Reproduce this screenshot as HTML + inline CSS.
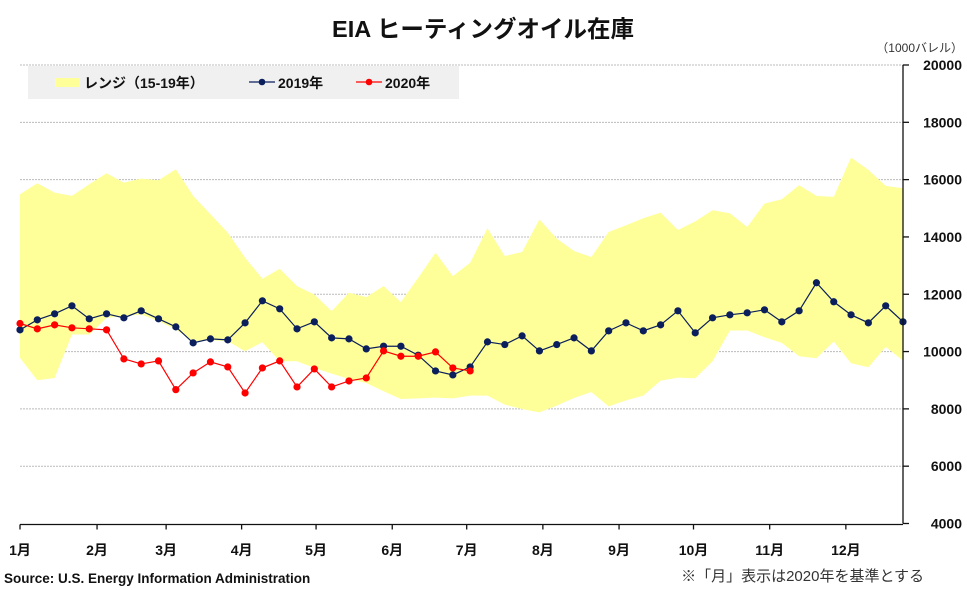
<!DOCTYPE html>
<html><head><meta charset="utf-8"><style>
body{margin:0;background:#fff;}
svg{display:block;font-family:"Liberation Sans","Noto Sans CJK JP",sans-serif;}
</style></head><body>
<svg id="chart" width="967" height="590" viewBox="0 0 967 590">
<text x="483" y="37" text-anchor="middle" font-size="23.5" font-weight="bold" fill="#111">EIA ヒーティングオイル在庫</text>
<text x="963" y="52" text-anchor="end" font-size="12" fill="#333">（1000バレル）</text>
<g id="grid"></g>
<g id="range"></g>
<g id="lines"></g>
<g id="axes"></g>
<g>
<rect x="28" y="66" width="431" height="33" fill="#f0f0f0"/>
<rect x="55" y="78" width="25" height="9" fill="#ffff99"/>
<text x="84" y="88" font-size="14" font-weight="bold" fill="#111">レンジ（15-19年）</text>
<line x1="249" y1="82" x2="275" y2="82" stroke="#0b1f5c" stroke-width="1.3"/>
<circle cx="262" cy="82" r="3.3" fill="#0b1f5c"/>
<text x="278" y="88" font-size="14" font-weight="bold" fill="#111">2019年</text>
<line x1="356" y1="82" x2="382" y2="82" stroke="#ff0000" stroke-width="1.3"/>
<circle cx="369" cy="82" r="3.3" fill="#ff0000"/>
<text x="385" y="88" font-size="14" font-weight="bold" fill="#111">2020年</text>
</g>
<text x="4" y="583" font-size="13.5" font-weight="bold" fill="#111">Source: U.S. Energy Information Administration</text>
<text x="924" y="581" text-anchor="end" font-size="15" fill="#333">※「月」表示は2020年を基準とする</text>
</svg>
<script>
const rangeUpper=[15490,15874,15548,15431,15839,16224,15897,16037,15979,16364,15431,14790,14149,13275,12541,12890,12284,11993,11410,12051,11900,12284,11725,12576,13450,12634,13100,14301,13333,13473,14615,13939,13508,13298,14173,14406,14650,14848,14242,14545,14930,14825,14347,15163,15315,15804,15431,15397,16772,16341,15781,15699];
const rangeLower=[9779,8998,9079,10594,10594,11177,11235,11294,11061,10769,10361,10396,10361,10012,10326,9662,9662,9429,9231,9044,8904,8613,8345,8368,8392,8368,8462,8462,8147,7995,7878,8112,8380,8590,8089,8298,8462,8986,9091,9068,9662,10734,10734,10501,10303,9837,9767,10350,9592,9452,10163,9685];
const series2019=[10758,11107,11317,11597,11142,11317,11177,11422,11142,10862,10303,10443,10408,11002,11771,11492,10793,11037,10478,10443,10093,10186,10186,9872,9324,9184,9464,10338,10245,10548,10023,10245,10478,10023,10723,11002,10723,10932,11422,10653,11177,11282,11352,11457,11037,11422,12401,11737,11282,11002,11597,11037];
const series2020=[10979,10793,10932,10828,10793,10758,9744,9569,9674,8671,9254,9639,9464,8555,9429,9674,8765,9394,8765,8974,9079,10023,9837,9837,9988,9429,9324];
const monthLabels=["1月","2月","3月","4月","5月","6月","7月","8月","9月","10月","11月","12月"];
const monthWeeks=[0,4.45,8.44,12.8,17.1,21.5,25.8,30.2,34.6,38.9,43.3,47.7];
const yTicks=[4000,6000,8000,10000,12000,14000,16000,18000,20000];
const NS="http://www.w3.org/2000/svg";
const X0=20,X1=903,Y0=523.5,Y1=65;
const xScale=i=>X0+i*(X1-X0)/51;
const yScale=v=>Y0-(v-4000)*(Y0-Y1)/16000;
function mk(tag,attrs,parent){const e=document.createElementNS(NS,tag);for(const k in attrs)e.setAttribute(k,attrs[k]);parent.appendChild(e);return e;}
const grid=document.getElementById('grid'),range=document.getElementById('range'),lines=document.getElementById('lines'),axes=document.getElementById('axes');
yTicks.forEach(t=>{
  const y=yScale(t);
  if(t>4000){const g=mk('line',{x1:X0,x2:X1,y1:y,y2:y,stroke:'#bbb','stroke-width':1,'stroke-dasharray':'2,1'},grid);
  
  }
  const tk=mk('line',{x1:X1,x2:X1+6,y1:y,y2:y,stroke:'#111','stroke-width':1.3},axes);
  
  
  const lb=mk('text',{x:962,y:y+5,'text-anchor':'end','font-size':14,'font-weight':'bold',fill:'#111'},axes);
  lb.textContent=t;
  
  
});
let d='M'+rangeUpper.map((v,i)=>xScale(i)+','+yScale(v)).join('L');
for(let i=rangeLower.length-1;i>=0;i--)d+='L'+xScale(i)+','+yScale(rangeLower[i]);
const area=mk('path',{d:d+'Z',fill:'#ffff99'},range);


function drawSeries(arr,color,name){
  const p=mk('polyline',{points:arr.map((v,i)=>xScale(i)+','+yScale(v)).join(' '),fill:'none',stroke:color,'stroke-width':1.2},lines);
  
  
  arr.forEach((v,i)=>{const c=mk('circle',{cx:xScale(i),cy:yScale(v),r:3.6,fill:color},lines);
  
  });
}
drawSeries(series2019,'#0b1f5c','series-2019');
drawSeries(series2020,'#ff0000','series-2020');
const ya=mk('line',{x1:X1,x2:X1,y1:Y1,y2:Y0,stroke:'#111','stroke-width':1.3},axes);


const xa=mk('line',{x1:X0,x2:X1,y1:Y0+1,y2:Y0+1,stroke:'#111','stroke-width':1.3},axes);


monthLabels.forEach((m,i)=>{
  const x=xScale(monthWeeks[i]);
  const tk=mk('line',{x1:x,x2:x,y1:Y0+1,y2:Y0+6,stroke:'#111','stroke-width':1.3},axes);
  
  
  const lb=mk('text',{x:x,y:555,'text-anchor':'middle','font-size':14,'font-weight':'bold',fill:'#111'},axes);
  lb.textContent=m;
  
  
});
</script>
</body></html>
